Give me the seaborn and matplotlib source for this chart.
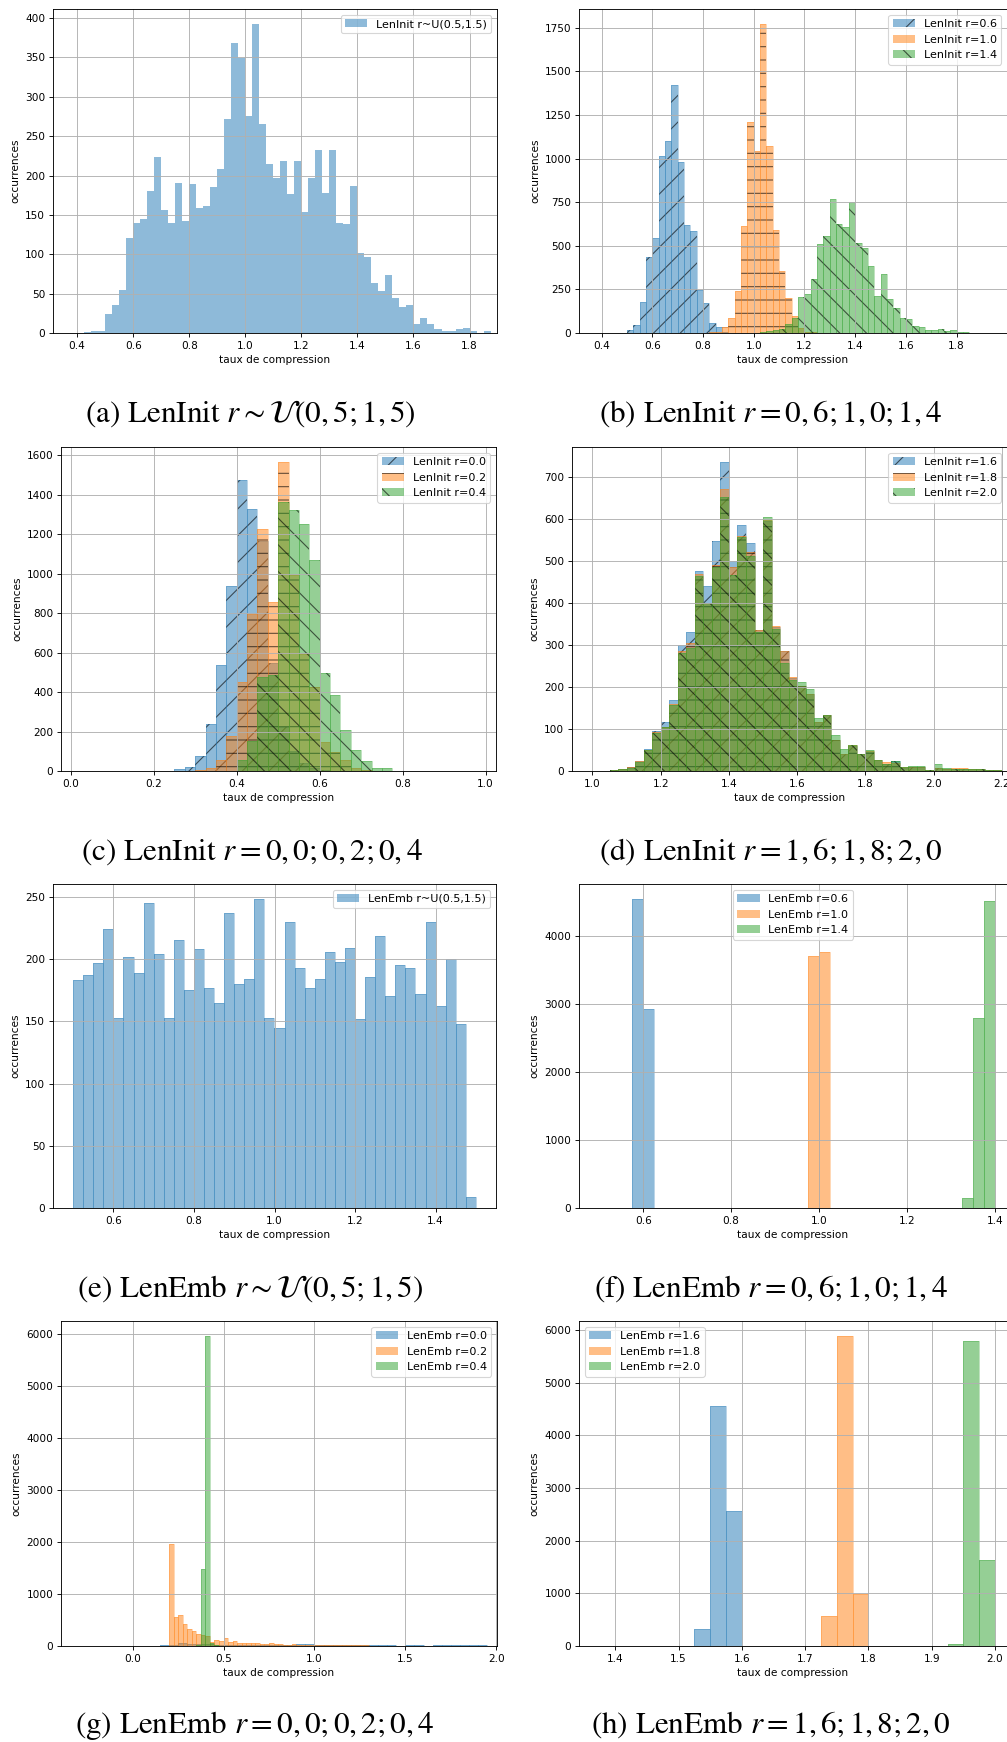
import numpy as np
import matplotlib
matplotlib.use("Agg")
import matplotlib.pyplot as plt
import seaborn as sns
from matplotlib.colors import to_rgba
from matplotlib.ticker import MultipleLocator

# bin width shared by almost every histogram
W = 0.025

# (a) LenInit r~U(0.5,1.5), bins start at 0.40
a_start = 0.40
a_counts = [0, 1, 2, 2, 24, 35, 54, 121, 140, 145, 180, 223, 156, 140, 190, 142,
            189, 159, 161, 186, 208, 272, 369, 349, 276, 392, 265, 215, 197, 218,
            177, 218, 154, 197, 232, 178, 232, 140, 138, 187, 102, 97, 64, 53, 74,
            45, 33, 35, 12, 19, 11, 5, 2, 3, 5, 6, 3, 0, 2, 0]

# (b) LenInit r=0.6 / 1.0 / 1.4
b_starts = [0.50, 0.80, 1.00]
b_r06 = [15, 44, 175, 433, 547, 1014, 1102, 1422, 982, 621, 587, 248, 170, 55, 32, 5]
b_r10 = [2, 3, 5, 34, 84, 238, 614, 1210, 1045, 1769, 1073, 593, 358, 200, 100, 30, 8, 3]
b_r14 = [2, 5, 10, 15, 21, 53, 86, 206, 223, 307, 511, 558, 768, 627, 610, 749, 518,
         486, 385, 212, 339, 194, 143, 84, 78, 42, 32, 15, 15, 21, 10, 15, 4, 3, 2, 2, 1, 1]

# (c) LenInit r=0.0 / 0.2 / 0.4
c_starts = [0.25, 0.30, 0.375]
c_r00 = [8, 22, 74, 240, 538, 937, 1475, 1329, 1164, 547, 225, 100, 40, 15, 5]
c_r02 = [3, 17, 57, 175, 451, 797, 1228, 856, 1563, 993, 592, 424, 145, 94, 57, 17, 5]
c_r04 = [2, 54, 150, 478, 488, 1364, 1324, 1253, 1067, 496, 385, 209, 108, 49, 17, 17, 2]

# (d) LenInit r=1.6 / 1.8 / 2.0, all bins start at 1.05
d_starts = [1.05, 1.05, 1.05]
d_r16 = [2, 5, 10, 23, 53, 95, 117, 170, 300, 330, 476, 440, 549, 735, 500, 585, 543,
         335, 595, 342, 286, 222, 203, 184, 116, 133, 73, 41, 60, 41, 45, 26, 17, 23,
         8, 10, 10, 3, 8, 5, 4, 4, 5, 5, 2, 2, 1]
d_r18 = [2, 5, 10, 24, 50, 93, 105, 160, 285, 305, 470, 400, 490, 672, 487, 559, 521,
         335, 597, 345, 286, 223, 203, 184, 116, 133, 73, 41, 62, 41, 47, 27, 21, 20,
         10, 9, 9, 3, 7, 5, 8, 8, 5, 5, 3, 2, 1]
d_r20 = [2, 5, 8, 22, 49, 90, 104, 157, 280, 294, 464, 400, 486, 653, 468, 557, 511,
         331, 604, 339, 257, 217, 211, 196, 127, 134, 85, 53, 62, 41, 49, 27, 17, 24,
         9, 11, 13, 3, 16, 7, 4, 4, 5, 5, 2, 2, 1]

# (e) LenEmb r~U(0.5,1.5)
e_start = 0.50
e_counts = [183, 187, 197, 224, 153, 202, 189, 245, 204, 153, 215, 175, 208, 177, 165,
            237, 180, 184, 248, 153, 145, 230, 193, 177, 184, 206, 198, 209, 152, 186,
            219, 170, 195, 193, 172, 230, 162, 200, 148, 9]

# (f) LenEmb r=0.6 / 1.0 / 1.4
f_starts = [0.575, 0.975, 1.325]
f_r06 = [4538, 2924]
f_r10 = [3702, 3760]
f_r14 = [152, 2792, 4508]

# (g) LenEmb r=0.0 / 0.2 / 0.4 (r=0.0 binned by 0.05)
g_starts = [-0.30, 0.20, 0.35]
g_widths = [0.05, W, W]
g_r00 = [3, 3, 4, 4, 5, 5, 6, 6, 8, 10, 15, 60, 40, 30, 30, 25, 20, 20, 25, 20, 25, 20,
         25, 25, 30, 45, 25, 25, 25, 25, 25, 25, 25, 25, 10, 8, 25, 25, 8, 25, 25, 25,
         25, 25, 25]
g_r02 = [1968, 550, 588, 415, 320, 280, 224, 210, 200, 85, 110, 90, 160, 80, 100, 65,
         55, 60, 60, 55, 40, 30, 55, 35, 30, 25, 25, 30, 20, 15, 15, 20, 20, 15, 15, 20,
         15, 20, 20, 15, 15, 20, 20, 15]
g_r04 = [15, 1470, 5943, 55, 10]

# (h) LenEmb r=1.6 / 1.8 / 2.0
h_starts = [1.35, 1.60, 1.85]
h_r16 = [5, 5, 5, 5, 2, 2, 3, 317, 4565, 2565, 5, 3]
h_r18 = [3, 3, 2, 2, 3, 565, 5880, 997, 5, 5, 3]
h_r20 = [3, 3, 5, 32, 5803, 1632]

COLORS = ["tab:blue", "tab:orange", "tab:green"]
HATCHES = ["/", "-", "\\"]

FIG_W, FIG_H = 1007, 1742
plt.rcParams["font.size"] = 9.5
plt.rcParams["legend.fontsize"] = 10
plt.rcParams["mathtext.fontset"] = "stix"
plt.rcParams["hatch.linewidth"] = 1.0

fig = plt.figure(figsize=(FIG_W / 80, FIG_H / 80), dpi=80)


def add_axes(x0, y0, x1, y1):
    return fig.add_axes([x0 / FIG_W, 1 - y1 / FIG_H, (x1 - x0) / FIG_W, (y1 - y0) / FIG_H])


def draw_hist(ax, start, counts, color, label=None, hatch=None, width=W, edges=True):
    counts = np.asarray(counts, dtype=float)
    bins = start + width * np.arange(len(counts) + 1)
    centers = bins[:-1] + width / 2
    sns.histplot(x=centers, weights=counts, bins=bins.tolist(), ax=ax, color=color,
                 alpha=0.5, hatch=hatch,
                 edgecolor=(0, 0, 0, 0.6) if hatch else "none",
                 linewidth=0, label=label)
    if edges:
        # thin same-colour outline on each bar
        sns.histplot(x=centers, weights=counts, bins=bins.tolist(), ax=ax, color=color,
                     alpha=0, edgecolor=to_rgba(color, 0.45), linewidth=0.6)


def style(ax, xlim, xstep, ystep, legend_loc="upper right", clip_right=False):
    ax.set_xlim(*xlim)
    ax.xaxis.set_major_locator(MultipleLocator(xstep))
    ax.yaxis.set_major_locator(MultipleLocator(ystep))
    ax.grid(True, color="#b0b0b0", linewidth=0.8)
    ax.set_xlabel("taux de compression")
    ax.set_ylabel("occurrences")
    ax.legend(loc=legend_loc)
    if clip_right:
        ax.spines["right"].set_visible(False)


# (a)
ax = add_axes(53, 9, 497, 333)
draw_hist(ax, a_start, a_counts, COLORS[0], label="LenInit r~U(0.5,1.5)", edges=False)
style(ax, (0.314, 1.898), 0.2, 50)

# (b)
ax = add_axes(579, 9, 1007, 333)
for s, c, col, h, lab in zip(b_starts, [b_r06, b_r10, b_r14], COLORS, HATCHES,
                             ["LenInit r=0.6", "LenInit r=1.0", "LenInit r=1.4"]):
    draw_hist(ax, s, c, col, label=lab, hatch=h)
style(ax, (0.3105, 1.999), 0.2, 250, clip_right=True)

# (c)
ax = add_axes(61, 447, 496, 771)
for s, c, col, h, lab in zip(c_starts, [c_r00, c_r02, c_r04], COLORS, HATCHES,
                             ["LenInit r=0.0", "LenInit r=0.2", "LenInit r=0.4"]):
    draw_hist(ax, s, c, col, label=lab, hatch=h)
style(ax, (-0.0233, 1.025), 0.2, 200)

# (d)
ax = add_axes(572, 447, 1007, 771)
for s, c, col, h, lab in zip(d_starts, [d_r16, d_r18, d_r20], COLORS, HATCHES,
                             ["LenInit r=1.6", "LenInit r=1.8", "LenInit r=2.0"]):
    draw_hist(ax, s, c, col, label=lab, hatch=h)
style(ax, (0.940, 2.215), 0.2, 100, clip_right=True)

# (e)
ax = add_axes(53, 884, 496, 1208)
draw_hist(ax, e_start, e_counts, COLORS[0], label="LenEmb r~U(0.5,1.5)")
style(ax, (0.45, 1.55), 0.2, 50)

# (f)
ax = add_axes(579, 884, 1007, 1208)
for s, c, col, lab in zip(f_starts, [f_r06, f_r10, f_r14], COLORS,
                          ["LenEmb r=0.6", "LenEmb r=1.0", "LenEmb r=1.4"]):
    draw_hist(ax, s, c, col, label=lab)
style(ax, (0.4535, 1.428), 0.2, 1000, legend_loc="upper center", clip_right=True)

# (g)
ax = add_axes(61, 1321, 497, 1646)
for s, w, c, col, lab in zip(g_starts, g_widths, [g_r00, g_r02, g_r04], COLORS,
                             ["LenEmb r=0.0", "LenEmb r=0.2", "LenEmb r=0.4"]):
    draw_hist(ax, s, c, col, label=lab, width=w)
style(ax, (-0.394, 2.004), 0.5, 1000)

# (h)
ax = add_axes(579, 1321, 1007, 1646)
for s, c, col, lab in zip(h_starts, [h_r16, h_r18, h_r20], COLORS,
                          ["LenEmb r=1.6", "LenEmb r=1.8", "LenEmb r=2.0"]):
    draw_hist(ax, s, c, col, label=lab)
style(ax, (1.3425, 2.019), 0.1, 1000, legend_loc="upper left", clip_right=True)

# sub-figure captions (x centre, baseline y)
captions = [
    (250, 422, r"(a) LenInit $r \sim \mathcal{U}(0,5;1,5)$"),
    (771, 422, r"(b) LenInit $r = 0,6;1,0;1,4$"),
    (252, 860, r"(c) LenInit $r = 0,0;0,2;0,4$"),
    (771, 860, r"(d) LenInit $r = 1,6;1,8;2,0$"),
    (250, 1297, r"(e) LenEmb $r \sim \mathcal{U}(0,5;1,5)$"),
    (771, 1297, r"(f) LenEmb $r = 0,6;1,0;1,4$"),
    (255, 1733, r"(g) LenEmb $r = 0,0;0,2;0,4$"),
    (771, 1733, r"(h) LenEmb $r = 1,6;1,8;2,0$"),
]
for x, y, txt in captions:
    fig.text(x / FIG_W, 1 - y / FIG_H, txt, ha="center", va="baseline",
             fontsize=28, family="STIXGeneral")

fig.savefig("out.png", dpi=80)
